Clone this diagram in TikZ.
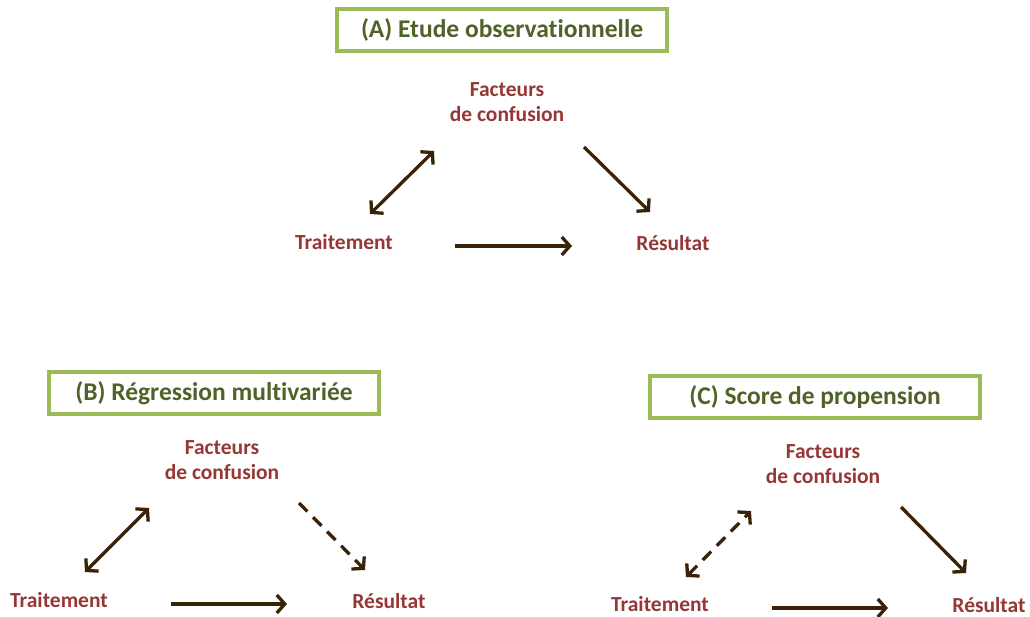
\documentclass[tikz,border=0pt]{standalone}
\usepackage{fontspec}
\setmainfont{Carlito}[Ligatures={NoCommon}]
\usetikzlibrary{arrows.meta}
\definecolor{boxgreen}{HTML}{9BBB59}
\definecolor{titlegreen}{HTML}{4F6228}
\definecolor{labelred}{HTML}{953735}
\definecolor{arrowbrown}{HTML}{3A2208}
\tikzset{
  titlebox/.style={draw=boxgreen, line width=3.5pt, fill=white, text=titlegreen, font=\bfseries\fontsize{25.5}{30}\selectfont, minimum width=330pt, minimum height=42pt, inner sep=0pt},
  lbl/.style={text=labelred, font=\bfseries\fontsize{21.5}{25}\selectfont, align=center, inner sep=0pt},
  conn/.style={draw=arrowbrown, line width=3.3pt, -{Straight Barb[length=8pt,width=18pt,line width=3.3pt]}},
  dconn/.style={conn, {Straight Barb[length=8pt,width=18pt,line width=3.3pt]}-{Straight Barb[length=8pt,width=18pt,line width=3.3pt]}},
  dsh/.style={dash pattern=on 12pt off 8pt}
}
\begin{document}
\begin{tikzpicture}[x=1pt,y=-1pt]
\useasboundingbox (0,0) rectangle (1030,617);
% (A)
\node[titlebox] (tA) at (502,30) {(A) Etude observationnelle};
\node[lbl] (fA) at (507,102) {Facteurs\\de confusion};
\node[lbl] (trA) at (344,242) {Traitement};
\node[lbl] (rA) at (673,243) {Résultat};
\coordinate (a1) at (370,214); \coordinate (a2) at (434,151);
\coordinate (a3) at (584,147); \coordinate (a4) at (650,212);
\coordinate (a5) at (455,246); \coordinate (a6) at (572,246);
\draw[dconn] (a1) -- (a2);
\draw[conn] (a3) -- (a4);
\draw[conn] (a5) -- (a6);
% (B)
\node[titlebox] (tB) at (214,393) {(B) Régression multivariée};
\node[lbl] (fB) at (222,460) {Facteurs\\de confusion};
\node[lbl] (trB) at (59,600) {Traitement};
\node[lbl] (rB) at (389,601) {Résultat};
\coordinate (b1) at (85,572); \coordinate (b2) at (149,508);
\coordinate (b3) at (299,503); \coordinate (b4) at (365,570);
\coordinate (b5) at (171,604); \coordinate (b6) at (287,604);
\draw[dconn] (b1) -- (b2);
\draw[conn, dsh] (b3) -- (b4);
\draw[conn] (b5) -- (b6);
% (C)
\node[titlebox] (tC) at (815,397) {(C) Score de propension};
\node[lbl] (fC) at (823,464) {Facteurs\\de confusion};
\node[lbl] (trC) at (660,604) {Traitement};
\node[lbl] (rC) at (989,605) {Résultat};
\coordinate (c1) at (686,577); \coordinate (c2) at (751,511);
\coordinate (c3) at (901,507); \coordinate (c4) at (966,573);
\coordinate (c5) at (772,608); \coordinate (c6) at (888,608);
\draw[dconn, dsh] (c1) -- (c2);
\draw[conn] (c3) -- (c4);
\draw[conn] (c5) -- (c6);
\end{tikzpicture}
\end{document}
